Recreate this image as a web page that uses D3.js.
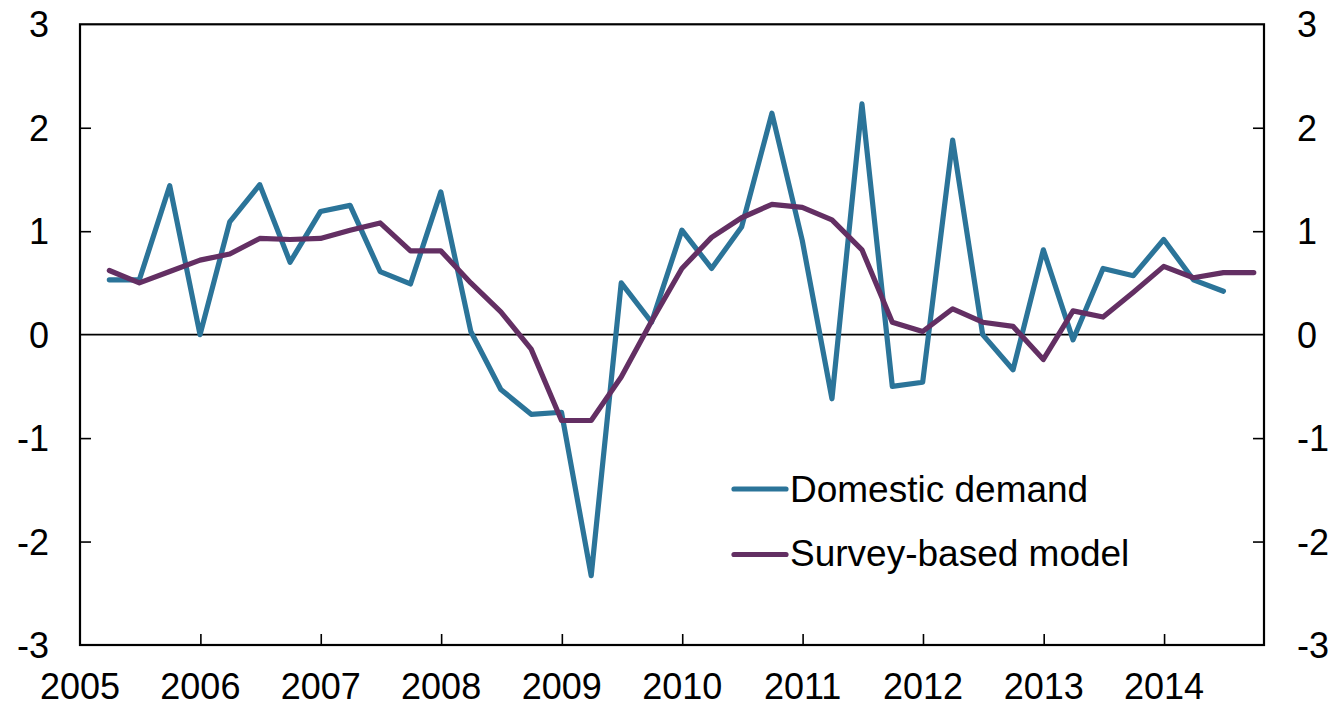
<!DOCTYPE html>
<html>
<head>
<meta charset="utf-8">
<script src="https://cdn.jsdelivr.net/npm/d3@7"></script>
<style>
  html, body { margin: 0; padding: 0; background: #ffffff; }
  svg { display: block; }
  text { font-family: "Liberation Sans", Arial, Helvetica, sans-serif; fill: #000; }
</style>
</head>
<body>
<svg id="chart" width="1336" height="709"></svg>
<script>
// Quarterly observations, labelled by quarter (plotted at quarter end)
const quarters = [
  "2005 Q1","2005 Q2","2005 Q3","2005 Q4",
  "2006 Q1","2006 Q2","2006 Q3","2006 Q4",
  "2007 Q1","2007 Q2","2007 Q3","2007 Q4",
  "2008 Q1","2008 Q2","2008 Q3","2008 Q4",
  "2009 Q1","2009 Q2","2009 Q3","2009 Q4",
  "2010 Q1","2010 Q2","2010 Q3","2010 Q4",
  "2011 Q1","2011 Q2","2011 Q3","2011 Q4",
  "2012 Q1","2012 Q2","2012 Q3","2012 Q4",
  "2013 Q1","2013 Q2","2013 Q3","2013 Q4",
  "2014 Q1","2014 Q2","2014 Q3"
];

// Domestic demand, quarterly % change (to 2014 Q2)
const domesticDemand = [
  0.53, 0.53, 1.44, 0.00,
  1.09, 1.45, 0.70, 1.19,
  1.25, 0.61, 0.49, 1.38,
  0.03, -0.53, -0.77, -0.75,
  -2.33, 0.50, 0.12, 1.01,
  0.64, 1.04, 2.14, 0.91,
  -0.62, 2.23, -0.50, -0.46,
  1.88, 0.00, -0.34, 0.82,
  -0.05, 0.64, 0.57, 0.92,
  0.53, 0.42
];

// Survey-based model estimate (to 2014 Q3)
const surveyModel = [
  0.62, 0.50, 0.61, 0.72,
  0.78, 0.93, 0.92, 0.93,
  1.01, 1.08, 0.81, 0.81,
  0.50, 0.22, -0.14, -0.83,
  -0.83, -0.41, 0.13, 0.64,
  0.94, 1.13, 1.26, 1.23,
  1.11, 0.82, 0.12, 0.03,
  0.25, 0.12, 0.08, -0.24,
  0.23, 0.17, 0.41, 0.66,
  0.55, 0.60, 0.60
];

const yearTicks = [2005, 2006, 2007, 2008, 2009, 2010, 2011, 2012, 2013, 2014];
const valueTicks = [-3, -2, -1, 0, 1, 2, 3];

const seriesNames = ["Domestic demand", "Survey-based model"];
const seriesColors = ["#2b7499", "#632f63"];

// ---- layout ----
const plotLeft = 80, plotRight = 1264, plotTop = 24.3, plotBottom = 645;

const svg = d3.select("#chart");

// last day of the quarter
function quarterEnd(label) {
  const [yr, q] = label.split(" Q").map(Number);
  return new Date(Date.UTC(yr, q * 3, 0));
}

const x = d3.scaleUtc()
  .domain([new Date(Date.UTC(2005, 0, 1)), new Date(Date.UTC(2014, 9, 31))])
  .range([plotLeft, plotRight]);

const y = d3.scaleLinear()
  .domain([-3, 3])
  .range([plotBottom, plotTop]);

const fontSize = 36;
const legendFontSize = 37;
const innerTicks = valueTicks.filter(v => v !== 3 && v !== -3 && v !== 0);

// zero line
svg.append("line")
  .attr("x1", plotLeft).attr("x2", plotRight)
  .attr("y1", y(0)).attr("y2", y(0))
  .attr("stroke", "#000").attr("stroke-width", 1.6);

// left axis: inward ticks
svg.append("g").attr("transform", `translate(${plotLeft},0)`)
  .call(d3.axisRight(y).tickValues(innerTicks).tickSize(11).tickFormat(""))
  .call(g => g.select(".domain").remove())
  .call(g => g.selectAll("line").attr("stroke", "#000").attr("stroke-width", 1.6));

// right axis: inward ticks
svg.append("g").attr("transform", `translate(${plotRight},0)`)
  .call(d3.axisLeft(y).tickValues(innerTicks).tickSize(11).tickFormat(""))
  .call(g => g.select(".domain").remove())
  .call(g => g.selectAll("line").attr("stroke", "#000").attr("stroke-width", 1.6));

// bottom ticks pointing up
svg.append("g").attr("transform", `translate(0,${plotBottom})`)
  .call(d3.axisTop(x)
    .tickValues(yearTicks.filter(yr => yr !== 2005).map(yr => new Date(Date.UTC(yr, 0, 1))))
    .tickSize(11).tickFormat(""))
  .call(g => g.select(".domain").remove())
  .call(g => g.selectAll("line").attr("stroke", "#000").attr("stroke-width", 1.6));

// frame
svg.append("rect")
  .attr("x", plotLeft).attr("y", plotTop)
  .attr("width", plotRight - plotLeft).attr("height", plotBottom - plotTop)
  .attr("fill", "none").attr("stroke", "#000").attr("stroke-width", 2.2);

// value labels on both sides
svg.append("g").selectAll("text").data(valueTicks).join("text")
  .attr("x", 49).attr("y", d => y(d)).attr("dy", "0.36em")
  .attr("text-anchor", "end").attr("font-size", fontSize)
  .text(d => d);
svg.append("g").selectAll("text").data(valueTicks).join("text")
  .attr("x", 1297).attr("y", d => y(d)).attr("dy", "0.36em")
  .attr("text-anchor", "start").attr("font-size", fontSize)
  .text(d => d);

// year labels
svg.append("g").selectAll("text").data(yearTicks).join("text")
  .attr("x", d => x(new Date(Date.UTC(d, 0, 1)))).attr("y", 699)
  .attr("text-anchor", "middle").attr("font-size", fontSize)
  .text(d => d);

// series lines
const line = d3.line()
  .x((d, i) => x(quarterEnd(quarters[i])))
  .y(d => y(d));

[domesticDemand, surveyModel].forEach((vals, k) => {
  svg.append("path")
    .datum(vals)
    .attr("d", line)
    .attr("fill", "none")
    .attr("stroke", seriesColors[k])
    .attr("stroke-width", 5.2)
    .attr("stroke-linejoin", "round")
    .attr("stroke-linecap", "round");
});

// legend
const legendRows = [489, 554.5];
const legendBase = [501.5, 566];
const legend = svg.append("g");
seriesNames.forEach((name, k) => {
  legend.append("line")
    .attr("x1", 734).attr("x2", 786)
    .attr("y1", legendRows[k]).attr("y2", legendRows[k])
    .attr("stroke", seriesColors[k]).attr("stroke-width", 5.2)
    .attr("stroke-linecap", "round");
  legend.append("text")
    .attr("x", 790).attr("y", legendBase[k])
    .attr("font-size", legendFontSize)
    .text(name);
});
</script>
</body>
</html>
